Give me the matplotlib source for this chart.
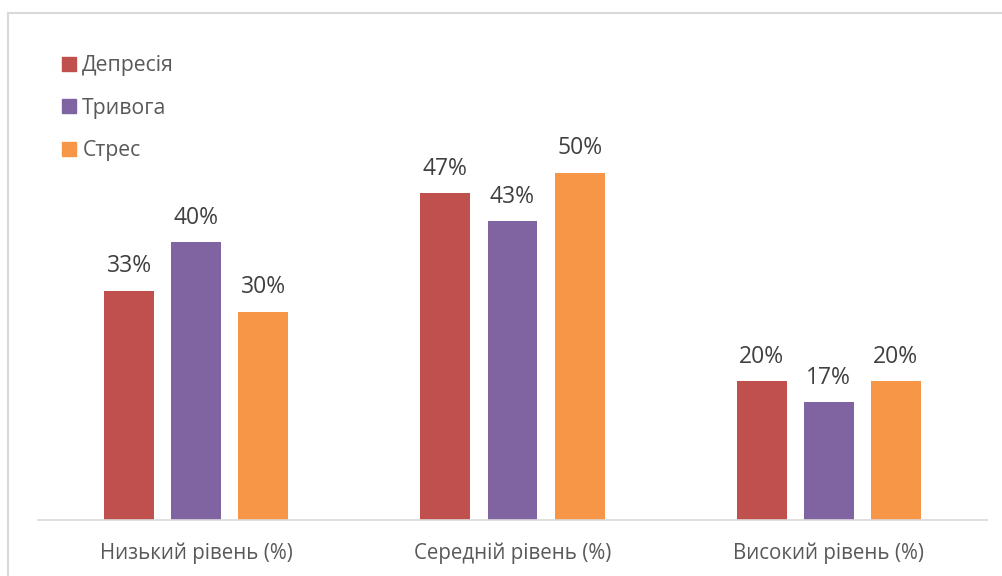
import matplotlib
matplotlib.use("Agg")
import matplotlib.pyplot as plt
import numpy as np
from matplotlib.patches import Rectangle, Patch

plt.rcParams['font.family'] = ['Open Sans', 'DejaVu Sans']

categories = ["Низький рівень (%)", "Середній рівень (%)", "Високий рівень (%)"]
series = ["Депресія", "Тривога", "Стрес"]
depression = [33, 47, 20]
anxiety = [40, 43, 17]
stress = [30, 50, 20]
colors = ["#C0504D", "#8064A2", "#F79646"]

W, H = 1003, 576
fig = plt.figure(figsize=(W / 100, H / 100), dpi=100)

# chart frame (cut off at right/bottom in the original)
fig.patches.append(Rectangle((8 / W, -0.1), 1.2, (H - 13) / H + 0.1,
                             transform=fig.transFigure, fill=False,
                             edgecolor="#D9D9D9", linewidth=1.5))

ax = fig.add_axes([38 / W, 56 / H, 949 / W, 417 / H])
x = np.arange(len(categories))
width = 0.158
pitch = 0.212
for i, (vals, col) in enumerate(zip([depression, anxiety, stress], colors)):
    pos = x + (i - 1) * pitch
    ax.bar(pos, vals, width, color=col, label=series[i])
    for p, v in zip(pos, vals):
        ax.text(p, v + 1.75, "{}%".format(v), ha="center", va="bottom",
                fontsize=16.5, color="#404040")

ax.set_xlim(-0.5, 2.5)
ax.set_ylim(0, 60)
ax.set_xticks(x)
ax.set_xticklabels(categories, fontsize=14.8, color="#595959")
ax.tick_params(axis="x", length=0, pad=16)
ax.set_yticks([])
for s in ["top", "right", "left"]:
    ax.spines[s].set_visible(False)
ax.spines["bottom"].set_color("#D9D9D9")
ax.spines["bottom"].set_linewidth(1.2)

handles = [Patch(color=c) for c in colors]
fig.legend(handles, series, loc="upper left", bbox_to_anchor=(43 / W, 1 - 36 / H),
           frameon=False, fontsize=15.3, handlelength=0.65, handleheight=0.65,
           handletextpad=0.3, labelspacing=1.02, labelcolor="#595959")

fig.savefig("out.png", dpi=100)
